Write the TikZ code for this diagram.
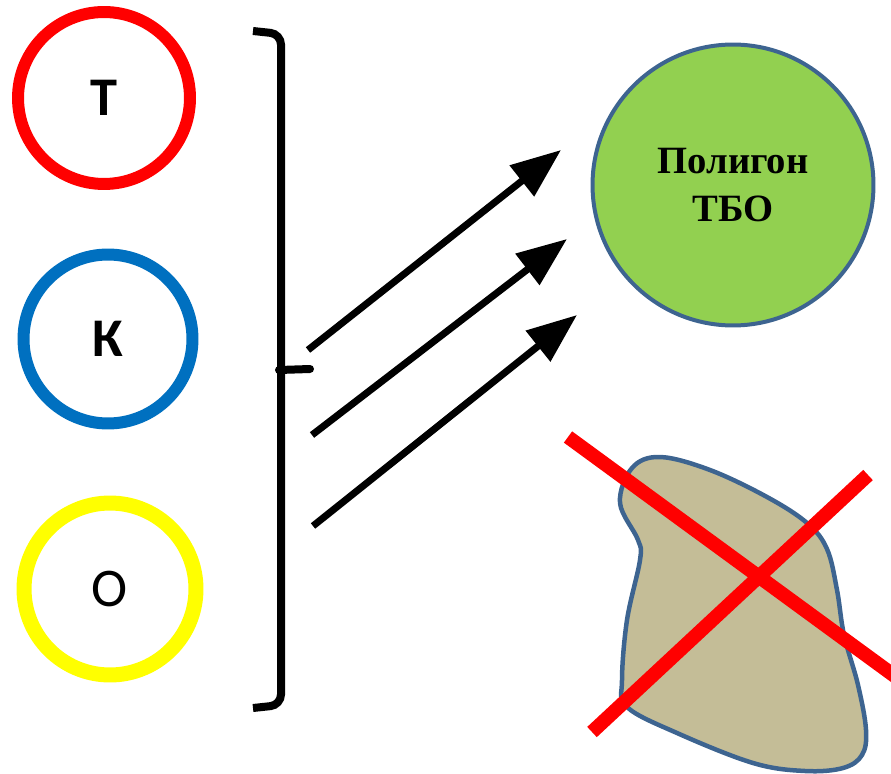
\documentclass[tikz,border=0pt]{standalone}
\usepackage{fontspec}
\setmainfont{Liberation Serif}
\newfontfamily\calibri{Carlito}
\usepackage{tikz}
\usetikzlibrary{shapes.geometric, arrows.meta, positioning, calc}

\definecolor{tred}{HTML}{FF0000}
\definecolor{kblue}{HTML}{0070C0}
\definecolor{oyellow}{HTML}{FFFF00}
\definecolor{polygreen}{HTML}{92D050}
\definecolor{edgeblue}{HTML}{3D6490}
\definecolor{landfill}{HTML}{C4BD97}

\begin{document}
\begin{tikzpicture}[
    x=0.02cm, y=-0.02cm,
    waste/.style={circle, draw, fill=white, line width=0.24cm, font=\calibri\fontsize{31}{31}\selectfont},
    polygon/.style={circle, draw=edgeblue, fill=polygreen, line width=0.08cm, minimum size=5.62cm, align=center, font=\bfseries\fontsize{22}{27}\selectfont},
    arrow/.style={line width=0.14cm, -{Triangle[length=1cm, width=0.76cm]}},
    cross/.style={draw=tred, line width=0.28cm}
]
    \useasboundingbox (0,0) rectangle (891,773);

    \node[waste, draw=tred, minimum size=3.44cm, font=\calibri\bfseries\fontsize{31}{31}\selectfont] (t) at (104,98) {Т};
    \node[waste, draw=kblue, minimum size=3.38cm, font=\calibri\bfseries\fontsize{31}{31}\selectfont] (k) at (108,339) {К};
    \node[waste, draw=oyellow, line width=0.3cm, minimum size=3.44cm] (o) at (110,589) {О};

    \node[polygon] (poly) at (733,185) {Полигон\\ТБО};

    % bracket
    \draw[line width=0.16cm, rounded corners=6] (253,31) -- (281,34) -- (281,705) -- (253,708);
    \draw[line width=0.16cm, line cap=round] (279,370) -- (310,369);

    % arrows
    \coordinate (a1s) at (308,350);
    \coordinate (a1e) at (561,150);
    \coordinate (a2s) at (312,435);
    \coordinate (a2e) at (567,239);
    \coordinate (a3s) at (313,526);
    \coordinate (a3e) at (577,315);
    \draw[arrow] (a1s) -- (a1e);
    \draw[arrow] (a2s) -- (a2e);
    \draw[arrow] (a3s) -- (a3e);

    % dump
    \draw[draw=edgeblue, fill=landfill, line width=0.09cm] plot[smooth cycle, tension=0.6] coordinates {
        (660,457) (710,470) (767,497) (807,523) (827,549) (837,590) (844,635)
        (858,685) (866,730) (862,755) (843,768) (805,771) (753,763) (677,733) (627,707)
        (622,680) (627,620) (640,560) (638,540) (620,503) (632,468)};
    \draw[cross] (568,437) -- (896,677);
    \draw[cross] (592,732) -- (868,475);
\end{tikzpicture}
\end{document}
